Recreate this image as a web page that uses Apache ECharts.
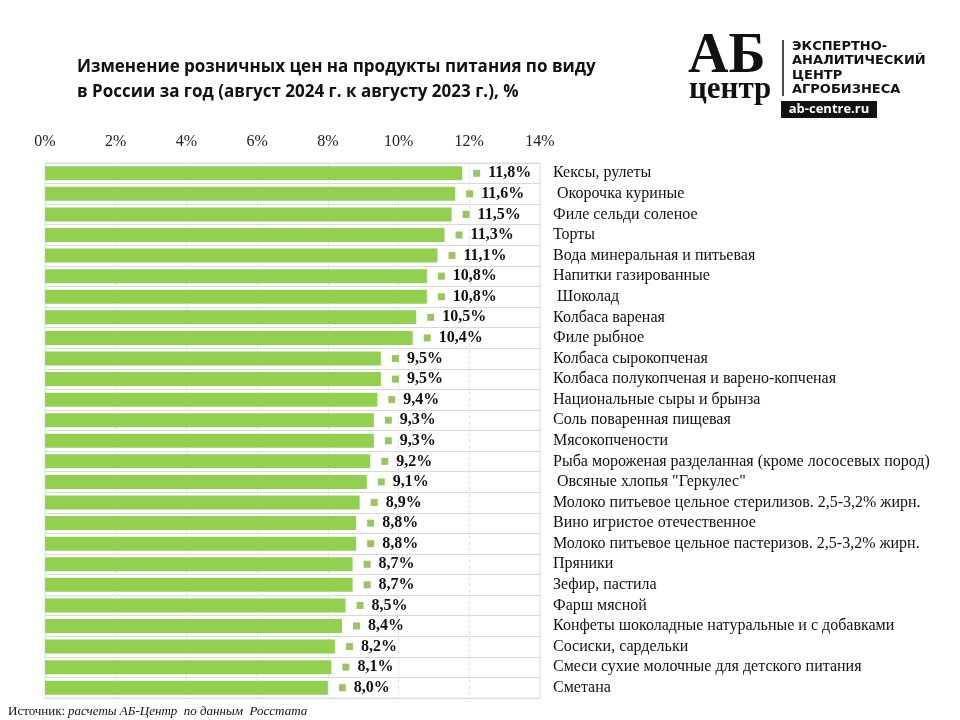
<!DOCTYPE html>
<html>
<head>
<meta charset="utf-8">
<script src="https://cdn.jsdelivr.net/npm/echarts@6/dist/echarts.min.js"></script>
<style>html,body{margin:0;padding:0;background:#fff}#c{width:960px;height:720px}</style>
</head>
<body>
<div id="c"></div>
<script>
const categories = [
  "Кексы, рулеты",
  " Окорочка куриные",
  "Филе сельди соленое",
  "Торты",
  "Вода минеральная и питьевая",
  "Напитки газированные",
  " Шоколад",
  "Колбаса вареная",
  "Филе рыбное",
  "Колбаса сырокопченая",
  "Колбаса полукопченая и варено-копченая",
  "Национальные сыры и брынза",
  "Соль поваренная пищевая",
  "Мясокопчености",
  "Рыба мороженая разделанная (кроме лососевых пород)",
  " Овсяные хлопья \"Геркулес\"",
  "Молоко питьевое цельное стерилизов. 2,5-3,2% жирн.",
  "Вино игристое отечественное",
  "Молоко питьевое цельное пастеризов. 2,5-3,2% жирн.",
  "Пряники",
  "Зефир, пастила",
  "Фарш мясной",
  "Конфеты шоколадные натуральные и с добавками",
  "Сосиски, сардельки",
  "Смеси сухие молочные для детского питания",
  "Сметана"
];
const values = [11.8, 11.6, 11.5, 11.3, 11.1, 10.8, 10.8, 10.5, 10.4, 9.5, 9.5, 9.4, 9.3, 9.3, 9.2, 9.1, 8.9, 8.8, 8.8, 8.7, 8.7, 8.5, 8.4, 8.2, 8.1, 8.0];
const axisMin = 0, axisMax = 14, axisStep = 2;
const titleText = "Изменение розничных цен на продукты питания по виду\nв России за год (август 2024 г. к августу 2023 г.), %";
const sourceLabel = "Источник:";
const sourceText = "расчеты АБ-Центр  по данным  Росстата";

const chart = echarts.init(document.getElementById('c'), null, {renderer: 'canvas'});
const serif = "'Liberation Serif', 'Times New Roman', serif";
chart.setOption({
  animation: false,
  backgroundColor: '#ffffff',
  title: {
    text: titleText,
    left: 72, top: 50,
    textStyle: {fontFamily: "'Open Sans', 'Noto Sans', sans-serif", fontWeight: 'bold', fontSize: 17, lineHeight: 25, color: '#111'}
  },
  grid: {left: 45, right: 420, top: 163, bottom: 22, containLabel: false},
  xAxis: {
    type: 'value', position: 'top', min: axisMin, max: axisMax, interval: axisStep,
    axisLine: {show: false}, axisTick: {show: false},
    axisLabel: {formatter: '{value}%', fontFamily: serif, fontSize: 16, color: '#222', margin: 13},
    splitLine: {show: true, lineStyle: {color: '#e6e6e6', type: 'dashed', width: 1}}
  },
  yAxis: {
    type: 'category', data: categories, inverse: true, position: 'right',
    axisLine: {show: false}, axisTick: {show: false},
    axisLabel: {interval: 0, hideOverlap: false, align: 'left', margin: 13, fontFamily: serif, fontSize: 16, color: '#111'},
    splitLine: {show: true, interval: 0, lineStyle: {color: '#d9d9d9', width: 1}}
  },
  series: [{
    type: 'bar', data: values, barWidth: 14,
    itemStyle: {color: '#92d050'},
    label: {
      show: true, position: 'right', distance: 11,
      formatter: p => '{m|}{v|' + p.value.toFixed(1).replace('.', ',') + '%}',
      rich: {
        m: {backgroundColor: '#9cc462', width: 7, height: 7},
        v: {fontFamily: serif, fontWeight: 'bold', fontSize: 16, color: '#111', padding: [0, 0, 0, 8]}
      }
    }
  }],
  graphic: [
    {type: 'rect', shape: {x: 45, y: 163, width: 495, height: 535}, style: {fill: 'none', stroke: '#e0e0e0', lineWidth: 1}, silent: true, z: -1},
    {type: 'text', left: 688, top: 30, style: {text: 'АБ', font: "bold 56px 'Liberation Serif', serif", fill: '#111'}},
    {type: 'text', left: 689, top: 74, style: {text: 'центр', font: "bold 31px 'Liberation Serif', serif", fill: '#111'}},
    {type: 'line', shape: {x1: 783, y1: 40, x2: 783, y2: 96}, style: {stroke: '#111', lineWidth: 1.5}},
    {type: 'text', left: 792, top: 39, style: {text: 'ЭКСПЕРТНО-\nАНАЛИТИЧЕСКИЙ\nЦЕНТР\nАГРОБИЗНЕСА', font: "bold 13px 'DejaVu Sans', sans-serif", lineHeight: 14.5, fill: '#111'}},
    {type: 'rect', shape: {x: 781, y: 101, width: 96, height: 17}, style: {fill: '#111'}},
    {type: 'text', x: 829, y: 109.5, style: {text: 'ab-centre.ru', font: "bold 13px 'Open Sans', sans-serif", fill: '#fff', align: 'center', verticalAlign: 'middle'}},
    {type: 'text', left: 8, top: 705, style: {text: sourceLabel, font: "13px 'Liberation Serif', serif", fill: '#111'}},
    {type: 'text', left: 68, top: 705, style: {text: sourceText, font: "italic 13px 'Liberation Serif', serif", fill: '#111'}}
  ]
});
</script>
</body>
</html>
